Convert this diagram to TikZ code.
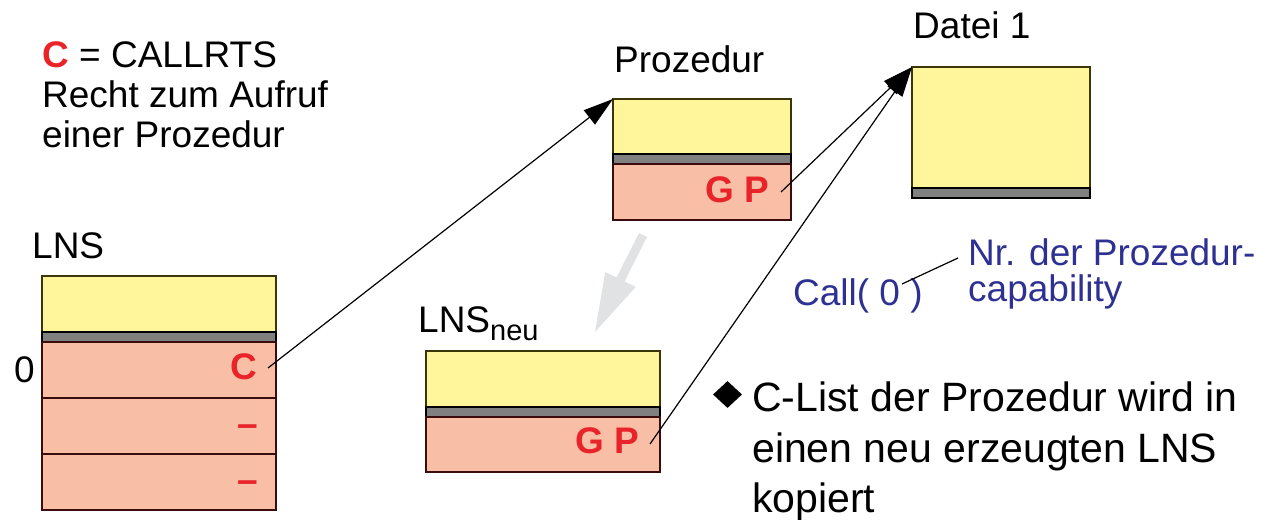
\documentclass[tikz,border=0pt]{standalone}
\usepackage{fontspec}
\setmainfont{Liberation Sans}
\usetikzlibrary{arrows.meta,shapes.geometric}
\definecolor{yfill}{HTML}{FFF59A}
\definecolor{pfill}{HTML}{F8BFA6}
\definecolor{gfill}{HTML}{808080}
\definecolor{yborder}{HTML}{3A3608}
\definecolor{pborder}{HTML}{3A0C0C}
\definecolor{rtext}{HTML}{E8232A}
\definecolor{btext}{HTML}{2E3192}
\definecolor{arrowgray}{HTML}{E1E2E4}
\begin{document}
\begin{tikzpicture}[x=1pt,y=-1pt,
  cellbase/.style={anchor=north west, inner sep=0pt, outer sep=0pt, line width=1.4pt, minimum width=#1},
  ycell/.style={cellbase=#1, draw=yborder, fill=yfill},
  gcell/.style={cellbase=#1, draw=black, fill=gfill},
  pcell/.style={cellbase=#1, draw=pborder, fill=pfill},
  lbl/.style={anchor=base west, inner sep=0pt, font=\fontsize{37}{40}\selectfont},
  redlbl/.style={anchor=base east, inner sep=0pt, text=rtext, font=\fontsize{37}{40}\selectfont\bfseries},
  bluelbl/.style={anchor=base west, inner sep=0pt, text=btext, font=\fontsize{37}{40}\selectfont},
  bullettext/.style={anchor=base west, inner sep=0pt, font=\fontsize{41}{48}\selectfont},
  ptr/.style={line width=1.2pt, -{Triangle[length=30pt,width=18pt]}},
  thin/.style={line width=1.2pt}
]
\useasboundingbox (0,0) rectangle (1265,519);

% legend top left
\node[lbl] (leg1) at (42,67) {{\bfseries\color{rtext}C} = CALLRTS};
\node[lbl] (leg2) at (42,107) {Recht zum Aufruf};
\node[lbl] (leg3) at (42,147) {einer Prozedur};

% LNS
\node[lbl] (lnslbl) at (32,258) {LNS};
\node[ycell=234pt, minimum height=56pt] (ly) at (42,276) {};
\node[gcell=234pt, minimum height=10pt] (lg) at (42,332) {};
\node[pcell=234pt, minimum height=56pt] (lr0) at (42,342) {};
\node[pcell=234pt, minimum height=56pt] (lr1) at (42,398) {};
\node[pcell=234pt, minimum height=56pt] (lr2) at (42,454) {};
\node[lbl] (zero) at (14,382) {0};
\node[redlbl] (cC) at (257,379) {C};
\node[redlbl] (d1) at (258,436) {–};
\node[redlbl] (d2) at (258,492) {–};

% Prozedur
\node[lbl] (prozlbl) at (614,72) {Prozedur};
\node[ycell=178pt, minimum height=55pt] (py) at (613,99) {};
\node[gcell=178pt, minimum height=10pt] (pg) at (613,154) {};
\node[pcell=178pt, minimum height=56pt] (pr) at (613,164) {};
\node[redlbl] (pgp) at (769,202) {G P};

% Datei 1
\node[lbl] (dlbl) at (913,39) {Datei 1};
\node[ycell=178pt, minimum height=121pt] (dy) at (912,67) {};
\node[gcell=178pt, minimum height=10pt] (dg) at (912,188) {};

% LNS neu
\node[lbl] (nlbl) at (418,332) {LNS\raisebox{-8pt}{\fontsize{29}{30}\selectfont neu}};
\node[ycell=234pt, minimum height=56pt] (ny) at (426,351) {};
\node[gcell=234pt, minimum height=10pt] (ng) at (426,407) {};
\node[pcell=234pt, minimum height=55pt] (nr) at (426,417) {};
\node[redlbl] (ngp) at (639,453) {G P};

% copy arrow (light gray)
\fill[arrowgray] (639,233) -- (616.5,277.5) -- (605.2,272.1) -- (595,332)
  -- (635.8,286.9) -- (624.5,281.5) -- (647,237) -- cycle;

% pointers
\coordinate (cstart) at (268,368);
\coordinate (pstart) at (781,192);
\coordinate (nstart) at (650,444);
\draw[ptr] (cstart) -- (py.north west);
\draw[ptr] (pstart) -- (dy.north west);
\draw[ptr] (nstart) -- (dy.north west);

% Call annotation
\node[bluelbl] (call) at (793,305) {Call( 0 )};
\node[bluelbl] (nr1) at (968,265) {Nr. der Prozedur-};
\node[bluelbl] (nr2) at (968,301) {capability};
\coordinate (callpt) at (902,284);
\coordinate (nrpt) at (958,258);
\draw[thin] (callpt) -- (nrpt);

% bullet
\node[diamond, fill=black, inner sep=0pt, minimum width=29pt, minimum height=27pt] (bul) at (727.5,394.5) {};
\node[bullettext] (b1) at (752,411) {C-List der Prozedur wird in};
\node[bullettext] (b2) at (752,462) {einen neu erzeugten LNS};
\node[bullettext] (b3) at (752,512) {kopiert};
\end{tikzpicture}
\end{document}
